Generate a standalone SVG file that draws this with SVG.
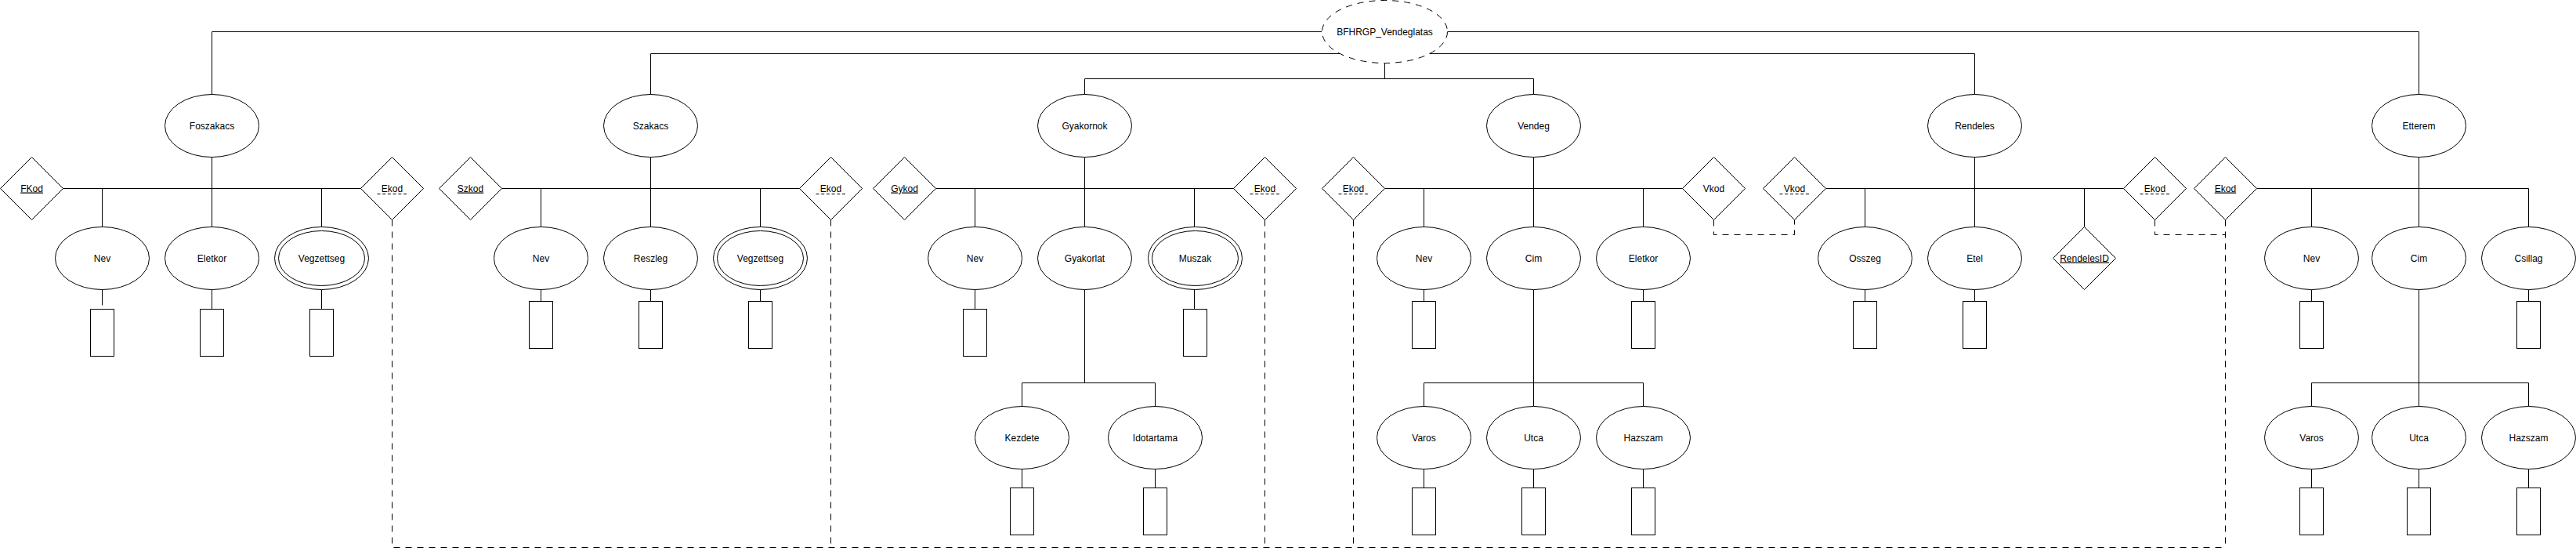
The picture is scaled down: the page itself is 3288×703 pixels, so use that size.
<svg xmlns="http://www.w3.org/2000/svg" width="3288" height="703" viewBox="0 0 3288 703">
<style>
.s{fill:#fff;stroke:#000;stroke-width:1}
.c{fill:none;stroke:#000;stroke-width:1}
.d{fill:none;stroke:#000;stroke-width:1;stroke-dasharray:8 7}
.du{stroke:#000;stroke-width:1;stroke-dasharray:4 2.7}
text{font-family:"Liberation Sans",Arial,Helvetica,sans-serif;font-size:12px;text-anchor:middle;fill:#000}
.u{text-decoration:underline}
</style>
<rect width="3288" height="703" fill="#fff"/>
<g transform="translate(0.5,0.5)">
<g id="connectors">
<!-- top links from root -->
<polyline class="c" points="270,120 270,40 1687,40"/>
<polyline class="c" points="1847,40 3087,40 3087,120"/>
<polyline class="c" points="830,120 830,68 1710,68"/>
<polyline class="c" points="1824,68 2520,68 2520,120"/>
<polyline class="c" points="1767,80 1767,100"/>
<polyline class="c" points="1384,120 1384,100 1957,100 1957,120"/>
<!-- entity bars -->
<line class="c" x1="80" y1="240" x2="460" y2="240"/>
<line class="c" x1="270" y1="200" x2="270" y2="289"/>
<line class="c" x1="130" y1="240" x2="130" y2="289"/>
<line class="c" x1="410" y1="240" x2="410" y2="289"/>
<line class="c" x1="130" y1="369" x2="130" y2="389"/>
<line class="c" x1="270" y1="369" x2="270" y2="394"/>
<line class="c" x1="410" y1="369" x2="410" y2="394"/>

<line class="c" x1="640" y1="240" x2="1020" y2="240"/>
<line class="c" x1="830" y1="200" x2="830" y2="289"/>
<line class="c" x1="690" y1="240" x2="690" y2="289"/>
<line class="c" x1="970" y1="240" x2="970" y2="289"/>
<line class="c" x1="690" y1="369" x2="690" y2="384"/>
<line class="c" x1="830" y1="369" x2="830" y2="384"/>
<line class="c" x1="970" y1="369" x2="970" y2="384"/>

<line class="c" x1="1194" y1="240" x2="1574" y2="240"/>
<line class="c" x1="1384" y1="200" x2="1384" y2="289"/>
<line class="c" x1="1244" y1="240" x2="1244" y2="289"/>
<line class="c" x1="1524" y1="240" x2="1524" y2="289"/>
<line class="c" x1="1244" y1="369" x2="1244" y2="394"/>
<line class="c" x1="1524" y1="369" x2="1524" y2="394"/>
<polyline class="c" points="1384,369 1384,488"/>
<polyline class="c" points="1304,518 1304,488 1474,488 1474,518"/>
<line class="c" x1="1304" y1="598" x2="1304" y2="622"/>
<line class="c" x1="1474" y1="598" x2="1474" y2="622"/>

<line class="c" x1="1767" y1="240" x2="2147" y2="240"/>
<line class="c" x1="1957" y1="200" x2="1957" y2="289"/>
<line class="c" x1="1817" y1="240" x2="1817" y2="289"/>
<line class="c" x1="2097" y1="240" x2="2097" y2="289"/>
<line class="c" x1="1817" y1="369" x2="1817" y2="384"/>
<line class="c" x1="2097" y1="369" x2="2097" y2="384"/>
<line class="c" x1="1957" y1="369" x2="1957" y2="518"/>
<polyline class="c" points="1817,518 1817,488 2097,488 2097,518"/>
<line class="c" x1="1817" y1="598" x2="1817" y2="622"/>
<line class="c" x1="1957" y1="598" x2="1957" y2="622"/>
<line class="c" x1="2097" y1="598" x2="2097" y2="622"/>

<line class="c" x1="2330" y1="240" x2="2710" y2="240"/>
<line class="c" x1="2520" y1="200" x2="2520" y2="289"/>
<line class="c" x1="2380" y1="240" x2="2380" y2="289"/>
<line class="c" x1="2660" y1="240" x2="2660" y2="289"/>
<line class="c" x1="2380" y1="369" x2="2380" y2="384"/>
<line class="c" x1="2520" y1="369" x2="2520" y2="384"/>

<line class="c" x1="2880" y1="240" x2="3227" y2="240"/>
<line class="c" x1="3087" y1="200" x2="3087" y2="289"/>
<line class="c" x1="2950" y1="240" x2="2950" y2="289"/>
<line class="c" x1="3227" y1="240" x2="3227" y2="289"/>
<line class="c" x1="2950" y1="369" x2="2950" y2="384"/>
<line class="c" x1="3227" y1="369" x2="3227" y2="384"/>
<line class="c" x1="3087" y1="369" x2="3087" y2="518"/>
<polyline class="c" points="2950,518 2950,488 3227,488 3227,518"/>
<line class="c" x1="2950" y1="598" x2="2950" y2="622"/>
<line class="c" x1="3087" y1="598" x2="3087" y2="622"/>
<line class="c" x1="3227" y1="598" x2="3227" y2="622"/>

<!-- dashed key links -->
<polyline class="d" points="500,280 500,698 2840,698"/>
<polyline class="d" points="1060,280 1060,698"/>
<polyline class="d" points="1614,280 1614,698"/>
<polyline class="d" points="1727,280 1727,698"/>
<polyline class="d" points="2840,280 2840,698"/>
<polyline class="d" points="2187,280 2187,299 2290,299 2290,280"/>
<polyline class="d" points="2750,280 2750,299 2840,299"/>
</g>

<g id="root"><ellipse class="s" style="stroke-dasharray:8 7" cx="1767" cy="40" rx="80" ry="40"/><text x="1767" y="44">BFHRGP_Vendeglatas</text></g>

<!-- Foszakacs -->
<g id="foszakacs"><ellipse class="s" cx="270" cy="160" rx="60" ry="40"/><text x="270" y="164">Foszakacs</text></g>
<g id="fkod"><polygon class="s" points="40,200 80,240 40,280 0,240"/><text class="u" x="40" y="244">FKod</text></g>
<g id="fosz-ekod"><polygon class="s" points="500,200 540,240 500,280 460,240"/><text x="500" y="244">Ekod</text><line class="du" x1="481" y1="247" x2="520" y2="247"/></g>
<g id="fosz-nev"><ellipse class="s" cx="130" cy="329" rx="60" ry="40"/><text x="130" y="333">Nev</text></g>
<g id="fosz-eletkor"><ellipse class="s" cx="270" cy="329" rx="60" ry="40"/><text x="270" y="333">Eletkor</text></g>
<g id="fosz-vegzettseg"><ellipse class="s" cx="410" cy="329" rx="60" ry="40"/><ellipse class="s" cx="410" cy="329" rx="55" ry="35"/><text x="410" y="333">Vegzettseg</text></g>
<g id="fosz-nev-box"><rect class="s" x="115" y="394" width="30" height="60"/></g>
<g id="fosz-eletkor-box"><rect class="s" x="255" y="394" width="30" height="60"/></g>
<g id="fosz-vegzettseg-box"><rect class="s" x="395" y="394" width="30" height="60"/></g>

<!-- Szakacs -->
<g id="szakacs"><ellipse class="s" cx="830" cy="160" rx="60" ry="40"/><text x="830" y="164">Szakacs</text></g>
<g id="szkod"><polygon class="s" points="600,200 640,240 600,280 560,240"/><text class="u" x="600" y="244">Szkod</text></g>
<g id="szak-ekod"><polygon class="s" points="1060,200 1100,240 1060,280 1020,240"/><text x="1060" y="244">Ekod</text><line class="du" x1="1041" y1="247" x2="1080" y2="247"/></g>
<g id="szak-nev"><ellipse class="s" cx="690" cy="329" rx="60" ry="40"/><text x="690" y="333">Nev</text></g>
<g id="szak-reszleg"><ellipse class="s" cx="830" cy="329" rx="60" ry="40"/><text x="830" y="333">Reszleg</text></g>
<g id="szak-vegzettseg"><ellipse class="s" cx="970" cy="329" rx="60" ry="40"/><ellipse class="s" cx="970" cy="329" rx="55" ry="35"/><text x="970" y="333">Vegzettseg</text></g>
<g id="szak-nev-box"><rect class="s" x="675" y="384" width="30" height="60"/></g>
<g id="szak-reszleg-box"><rect class="s" x="815" y="384" width="30" height="60"/></g>
<g id="szak-vegzettseg-box"><rect class="s" x="955" y="384" width="30" height="60"/></g>

<!-- Gyakornok -->
<g id="gyakornok"><ellipse class="s" cx="1384" cy="160" rx="60" ry="40"/><text x="1384" y="164">Gyakornok</text></g>
<g id="gykod"><polygon class="s" points="1154,200 1194,240 1154,280 1114,240"/><text class="u" x="1154" y="244">Gykod</text></g>
<g id="gyak-ekod"><polygon class="s" points="1614,200 1654,240 1614,280 1574,240"/><text x="1614" y="244">Ekod</text><line class="du" x1="1595" y1="247" x2="1634" y2="247"/></g>
<g id="gyak-nev"><ellipse class="s" cx="1244" cy="329" rx="60" ry="40"/><text x="1244" y="333">Nev</text></g>
<g id="gyak-gyakorlat"><ellipse class="s" cx="1384" cy="329" rx="60" ry="40"/><text x="1384" y="333">Gyakorlat</text></g>
<g id="gyak-muszak"><ellipse class="s" cx="1525" cy="329" rx="60" ry="40"/><ellipse class="s" cx="1525" cy="329" rx="55" ry="35"/><text x="1525" y="333">Muszak</text></g>
<g id="gyak-nev-box"><rect class="s" x="1229" y="394" width="30" height="60"/></g>
<g id="gyak-muszak-box"><rect class="s" x="1510" y="394" width="30" height="60"/></g>
<g id="gyak-kezdete"><ellipse class="s" cx="1304" cy="558" rx="60" ry="40"/><text x="1304" y="562">Kezdete</text></g>
<g id="gyak-idotartama"><ellipse class="s" cx="1474" cy="558" rx="60" ry="40"/><text x="1474" y="562">Idotartama</text></g>
<g id="gyak-kezdete-box"><rect class="s" x="1289" y="622" width="30" height="60"/></g>
<g id="gyak-idotartama-box"><rect class="s" x="1459" y="622" width="30" height="60"/></g>

<!-- Vendeg -->
<g id="vendeg"><ellipse class="s" cx="1957" cy="160" rx="60" ry="40"/><text x="1957" y="164">Vendeg</text></g>
<g id="vend-ekod"><polygon class="s" points="1727,200 1767,240 1727,280 1687,240"/><text x="1727" y="244">Ekod</text><line class="du" x1="1708" y1="247" x2="1747" y2="247"/></g>
<g id="vend-vkod"><polygon class="s" points="2187,200 2227,240 2187,280 2147,240"/><text x="2187" y="244">Vkod</text></g>
<g id="vend-nev"><ellipse class="s" cx="1817" cy="329" rx="60" ry="40"/><text x="1817" y="333">Nev</text></g>
<g id="vend-cim"><ellipse class="s" cx="1957" cy="329" rx="60" ry="40"/><text x="1957" y="333">Cim</text></g>
<g id="vend-eletkor"><ellipse class="s" cx="2097" cy="329" rx="60" ry="40"/><text x="2097" y="333">Eletkor</text></g>
<g id="vend-nev-box"><rect class="s" x="1802" y="384" width="30" height="60"/></g>
<g id="vend-eletkor-box"><rect class="s" x="2082" y="384" width="30" height="60"/></g>
<g id="vend-varos"><ellipse class="s" cx="1817" cy="558" rx="60" ry="40"/><text x="1817" y="562">Varos</text></g>
<g id="vend-utca"><ellipse class="s" cx="1957" cy="558" rx="60" ry="40"/><text x="1957" y="562">Utca</text></g>
<g id="vend-hazszam"><ellipse class="s" cx="2097" cy="558" rx="60" ry="40"/><text x="2097" y="562">Hazszam</text></g>
<g id="vend-varos-box"><rect class="s" x="1802" y="622" width="30" height="60"/></g>
<g id="vend-utca-box"><rect class="s" x="1942" y="622" width="30" height="60"/></g>
<g id="vend-hazszam-box"><rect class="s" x="2082" y="622" width="30" height="60"/></g>

<!-- Rendeles -->
<g id="rendeles"><ellipse class="s" cx="2520" cy="160" rx="60" ry="40"/><text x="2520" y="164">Rendeles</text></g>
<g id="rend-vkod"><polygon class="s" points="2290,200 2330,240 2290,280 2250,240"/><text x="2290" y="244">Vkod</text><line class="du" x1="2271" y1="247" x2="2310" y2="247"/></g>
<g id="rend-ekod"><polygon class="s" points="2750,200 2790,240 2750,280 2710,240"/><text x="2750" y="244">Ekod</text><line class="du" x1="2731" y1="247" x2="2770" y2="247"/></g>
<g id="rend-osszeg"><ellipse class="s" cx="2380" cy="329" rx="60" ry="40"/><text x="2380" y="333">Osszeg</text></g>
<g id="rend-etel"><ellipse class="s" cx="2520" cy="329" rx="60" ry="40"/><text x="2520" y="333">Etel</text></g>
<g id="rend-rendelesid"><polygon class="s" points="2660,289 2700,329 2660,369 2620,329"/><text class="u" x="2660" y="333">RendelesID</text></g>
<g id="rend-osszeg-box"><rect class="s" x="2365" y="384" width="30" height="60"/></g>
<g id="rend-etel-box"><rect class="s" x="2505" y="384" width="30" height="60"/></g>

<!-- Etterem -->
<g id="etterem"><ellipse class="s" cx="3087" cy="160" rx="60" ry="40"/><text x="3087" y="164">Etterem</text></g>
<g id="ett-ekod"><polygon class="s" points="2840,200 2880,240 2840,280 2800,240"/><text class="u" x="2840" y="244">Ekod</text></g>
<g id="ett-nev"><ellipse class="s" cx="2950" cy="329" rx="60" ry="40"/><text x="2950" y="333">Nev</text></g>
<g id="ett-cim"><ellipse class="s" cx="3087" cy="329" rx="60" ry="40"/><text x="3087" y="333">Cim</text></g>
<g id="ett-csillag"><ellipse class="s" cx="3227" cy="329" rx="60" ry="40"/><text x="3227" y="333">Csillag</text></g>
<g id="ett-nev-box"><rect class="s" x="2935" y="384" width="30" height="60"/></g>
<g id="ett-csillag-box"><rect class="s" x="3212" y="384" width="30" height="60"/></g>
<g id="ett-varos"><ellipse class="s" cx="2950" cy="558" rx="60" ry="40"/><text x="2950" y="562">Varos</text></g>
<g id="ett-utca"><ellipse class="s" cx="3087" cy="558" rx="60" ry="40"/><text x="3087" y="562">Utca</text></g>
<g id="ett-hazszam"><ellipse class="s" cx="3227" cy="558" rx="60" ry="40"/><text x="3227" y="562">Hazszam</text></g>
<g id="ett-varos-box"><rect class="s" x="2935" y="622" width="30" height="60"/></g>
<g id="ett-utca-box"><rect class="s" x="3072" y="622" width="30" height="60"/></g>
<g id="ett-hazszam-box"><rect class="s" x="3212" y="622" width="30" height="60"/></g>
</g>
</svg>
